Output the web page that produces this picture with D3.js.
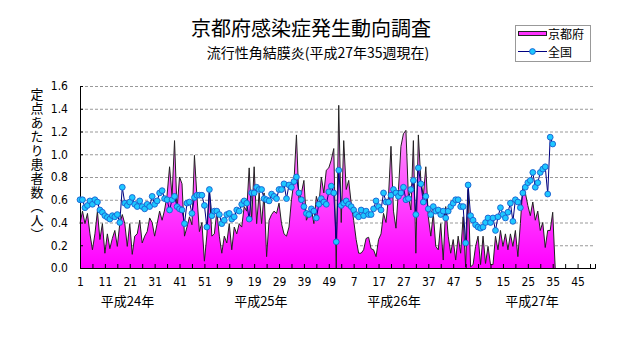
<!DOCTYPE html>
<html><head><meta charset="utf-8">
<script src="https://cdn.jsdelivr.net/npm/d3@7"></script>
<style>
html,body{margin:0;padding:0;background:#fff;}
svg{display:block;}
.jp{font-family:"Noto Sans CJK JP","Noto Sans CJK SC",sans-serif;}
.num{font-family:"Liberation Sans Narrow","DejaVu Sans Condensed","Liberation Sans",sans-serif;}
</style></head>
<body>
<svg id="c" width="631" height="347"></svg>
<script>
// ---- data ----
const titleText = "京都府感染症発生動向調査";
const subtitleText = "流行性角結膜炎(平成27年35週現在)";
const yAxisTitle = "定点あたり患者数（人）";
const seriesNames = ["京都府", "全国"];
const yearNames = ["平成24年", "平成25年", "平成26年", "平成27年"];
const weeksPerYear = [52, 52, 52, 52];
const xTickLabels = ["1","11","21","31","41","51","9","19","29","39","49","7","17","27","37","47","5","15","25","35","45"];
const yTicks = [0, 0.2, 0.4, 0.6, 0.8, 1.0, 1.2, 1.4, 1.6];

// 京都府 (weekly, from 平成24年第1週)
const kyoto = [
0.39,0.50,0.39,0.48,0.30,0.16,0.30,0.50,0.25,0.39,
0.13,0.30,0.17,0.26,0.33,0.19,0.39,0.47,0.39,0.19,
0.39,0.12,0.28,0.30,0.42,0.22,0.28,0.32,0.44,0.40,
0.28,0.39,0.50,0.42,0.51,0.64,0.89,0.63,1.12,0.51,
0.80,0.74,0.28,0.36,0.45,0.38,0.99,0.63,0.32,0.40,
0.06,0.29,0.69,0.28,0.30,0.50,0.28,0.13,0.28,0.22,
0.39,0.16,0.36,0.30,0.39,0.36,0.54,0.50,0.88,0.42,
0.89,0.39,0.66,0.39,0.66,0.10,0.42,0.47,0.50,0.48,
0.57,0.39,0.30,0.28,0.36,0.60,0.76,1.17,0.60,0.66,
0.77,0.42,0.47,0.52,0.39,0.63,0.55,0.80,0.66,0.86,
0.88,0.95,1.05,0.00,1.43,0.40,1.12,0.69,0.77,0.57,
0.42,0.25,0.13,0.13,0.16,0.26,0.27,0.17,0.16,0.10,
0.25,0.30,0.48,0.40,0.63,1.07,0.50,0.35,0.69,1.07,
1.18,1.21,0.63,0.51,1.12,0.13,1.17,0.77,0.63,0.89,
0.45,0.28,0.48,0.19,0.16,0.39,0.07,0.54,0.28,0.13,
0.25,0.07,0.28,0.13,0.45,0.01,0.69,0.01,0.03,0.19,
0.28,0.03,0.28,0.04,0.19,0.03,0.03,0.28,0.16,0.33,
0.19,0.30,0.16,0.30,0.19,0.33,0.10,0.39,0.72,0.66,
0.55,0.46,0.58,0.42,0.50,0.33,0.40,0.18,0.33,0.33,
0.49
];
// 全国
const national = [
0.60,0.60,0.53,0.55,0.59,0.56,0.60,0.58,0.51,0.49,
0.46,0.445,0.43,0.46,0.45,0.47,0.40,0.71,0.57,0.55,
0.58,0.62,0.56,0.54,0.59,0.54,0.52,0.56,0.54,0.63,
0.56,0.59,0.66,0.68,0.61,0.60,0.51,0.60,0.63,0.54,
0.52,0.51,0.39,0.57,0.58,0.48,0.62,0.64,0.64,0.64,
0.55,0.36,0.69,0.46,0.50,0.50,0.47,0.39,0.42,0.47,
0.48,0.43,0.45,0.51,0.50,0.56,0.59,0.57,0.43,0.66,
0.66,0.71,0.69,0.69,0.61,0.60,0.59,0.65,0.63,0.61,
0.69,0.69,0.74,0.61,0.73,0.71,0.76,0.80,0.66,0.60,
0.54,0.48,0.47,0.52,0.50,0.44,0.56,0.61,0.58,0.56,
0.67,0.72,0.66,0.23,0.86,0.55,0.57,0.59,0.56,0.54,
0.51,0.47,0.45,0.51,0.46,0.50,0.47,0.47,0.52,0.59,
0.54,0.51,0.66,0.58,0.58,0.64,0.69,0.66,0.63,0.66,
0.71,0.60,0.61,0.69,0.77,0.47,0.88,0.74,0.58,0.63,
0.52,0.47,0.54,0.50,0.51,0.47,0.50,0.44,0.50,0.54,
0.57,0.60,0.60,0.54,0.54,0.22,0.73,0.46,0.42,0.38,
0.36,0.35,0.36,0.40,0.44,0.40,0.44,0.33,0.45,0.53,
0.47,0.44,0.49,0.57,0.41,0.60,0.58,0.53,0.66,0.71,
0.75,0.77,0.84,0.71,0.75,0.84,0.87,0.89,0.65,1.15,
1.09
];
// category index where each year label is centred (layout)
const yearLabelAt = [19.1, 72.7, 126.2, 181.7];

// ---- chart ----
const nCat = d3.sum(weeksPerYear);
const svg = d3.select("#c");
svg.append("rect").attr("width",631).attr("height",347).attr("fill","#fff");

const x = d3.scaleLinear().domain([0, nCat - 1]).range([80, 595]);
const y = d3.scaleLinear().domain([0, 1.6]).range([268, 86]);

const defs = svg.append("defs");
const grad = defs.append("linearGradient").attr("id","pinkGrad")
  .attr("gradientUnits","userSpaceOnUse").attr("x1",0).attr("x2",0)
  .attr("y1", y(1.6)).attr("y2", y(0));
grad.append("stop").attr("offset","0").attr("stop-color","#ffd4ff");
grad.append("stop").attr("offset","0.45").attr("stop-color","#ff66ff");
grad.append("stop").attr("offset","1").attr("stop-color","#ff00ff");

// grid lines
svg.append("g").selectAll("line").data(yTicks.filter(d => d > 0)).join("line")
  .attr("x1", x(0)).attr("x2", x(nCat - 1))
  .attr("y1", d => y(d) + 0.5).attr("y2", d => y(d) + 0.5)
  .attr("stroke","#999").attr("stroke-width",1).attr("stroke-dasharray","3,2");

// Kyoto area (closes to baseline at the following category)
const kyotoPts = kyoto.map((v,i) => [i, v]);
kyotoPts.push([kyoto.length, 0]);
const area = d3.area().x(d => x(d[0])).y0(y(0)).y1(d => y(d[1]));
const line = d3.line().x(d => x(d[0])).y(d => y(d[1]));
svg.append("path").datum(kyotoPts).attr("d", area).attr("fill","url(#pinkGrad)");
svg.append("path").datum(kyotoPts).attr("d", line)
  .attr("fill","none").attr("stroke","#222").attr("stroke-width",1);

// axes
const yAxis = d3.axisLeft(y).tickValues(yTicks).tickFormat(d3.format(".1f"))
  .tickSizeInner(-3).tickSizeOuter(0).tickPadding(12);
const gy = svg.append("g").attr("transform","translate(" + x(0) + ",0)").call(yAxis);
gy.selectAll("text").attr("class","num").style("font-size","12px").attr("fill","#000");
gy.selectAll("line,path").attr("stroke","#000");

const xAxis = d3.axisBottom(x).tickValues(d3.range(0, nCat, 5))
  .tickFormat(d => d % 10 === 0 ? xTickLabels[d / 10] : "")
  .tickSizeInner(-4).tickSizeOuter(-4).tickPadding(9);
const gx = svg.append("g").attr("transform","translate(0," + y(0) + ")").call(xAxis);
gx.selectAll("text").attr("class","num").style("font-size","12px").attr("fill","#000");
gx.selectAll("line,path").attr("stroke","#000");

// national line + markers
const natPts = national.map((v,i) => [i, v]);
svg.append("path").datum(natPts).attr("d", line)
  .attr("fill","none").attr("stroke","#000080").attr("stroke-width",1);
svg.append("g").selectAll("circle").data(natPts).join("circle")
  .attr("cx", d => x(d[0])).attr("cy", d => y(d[1])).attr("r", 2.9)
  .attr("fill","#1ec8ff").attr("stroke","#1a5fd0").attr("stroke-width",0.9);

// year labels
svg.append("g").selectAll("text").data(yearNames).join("text")
  .attr("class","jp").attr("x", (d,i) => x(yearLabelAt[i])).attr("y", 306)
  .attr("text-anchor","middle").style("font-size","13px").text(d => d);

// titles
svg.append("text").attr("class","jp").attr("x", 311).attr("y", 36)
  .attr("text-anchor","middle").style("font-size","20px").text(titleText);
svg.append("text").attr("class","jp").attr("x", 318).attr("y", 58)
  .attr("text-anchor","middle").style("font-size","14px").text(subtitleText);

// y axis title (vertical)
svg.append("text").attr("class","jp").attr("x", 37).attr("y", 88)
  .style("writing-mode","vertical-rl").style("font-size","13px")
  .style("letter-spacing","1px").text(yAxisTitle);

// legend
const lg = svg.append("g");
lg.append("rect").attr("x",515.5).attr("y",25.5).attr("width",75).attr("height",36)
  .attr("fill","#fff").attr("stroke","#999");
lg.append("rect").attr("x",518.5).attr("y",31.5).attr("width",28).attr("height",4)
  .attr("fill","#ff33ff").attr("stroke","#222");
lg.append("line").attr("x1",518).attr("x2",547).attr("y1",51.5).attr("y2",51.5)
  .attr("stroke","#000080");
lg.append("circle").attr("cx",532.5).attr("cy",51.5).attr("r",2.9)
  .attr("fill","#1ec8ff").attr("stroke","#1a5fd0").attr("stroke-width",0.9);
lg.selectAll("text.lt").data(seriesNames).join("text").attr("class","jp lt")
  .attr("x",548).attr("y",(d,i) => i === 0 ? 38.5 : 57).style("font-size","12px").text(d => d);
</script>
</body></html>
